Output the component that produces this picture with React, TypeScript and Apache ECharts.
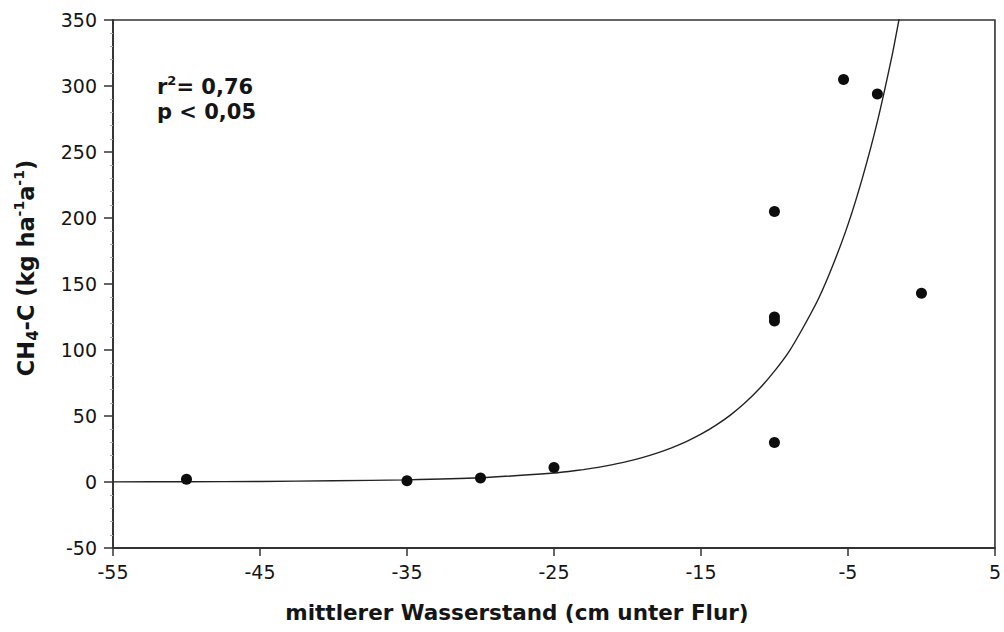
import React, { useEffect, useRef } from "react";
import * as echarts from "echarts";

// Measured points: mean water level (cm below surface) vs CH4-C emission
const waterLevel = [-50, -35, -30, -25, -10, -10, -10, -10, -5.3, -3, 0];
const ch4Emission = [2, 1, 3, 11, 30, 122, 125, 205, 305, 294, 143];

// Regression curve
const fitX = [-55, -50, -45, -40, -35, -30, -25, -24, -23, -22, -21, -20, -19, -18, -17, -16, -15, -14, -13, -12, -11, -10, -9, -8, -7, -6, -5, -4, -3, -2, -1.5];
const fitY = [0.1, 0.2, 0.4, 0.9, 1.6, 3.2, 6.8, 8, 9.4, 11.1, 13.2, 15.6, 18.5, 21.9, 25.9, 30.6, 36.2, 42.9, 50.7, 60, 71, 84, 99, 118, 139, 165, 195, 231, 273, 323, 352];

const xTicks = [-55, -45, -35, -25, -15, -5, 5];
const yMin = -50;
const yMax = 350;
const yStep = 50;

const statLines = ["{b|r}{s|2}{b|= 0,76}", "{b|p < 0,05}"];

const FONT = "DejaVu Sans";
const INK = "#151515";

export default function App() {
  const ref = useRef<HTMLDivElement>(null);

  useEffect(() => {
    if (!ref.current) return;
    const chart = echarts.init(ref.current, undefined, { renderer: "svg" });

    const boldRich = {
      b: { fontFamily: FONT, fontWeight: "bold", fontSize: 21, fill: INK, lineHeight: 26, verticalAlign: "middle" },
      s: { fontFamily: FONT, fontWeight: "bold", fontSize: 13, fill: INK, lineHeight: 14, verticalAlign: "top" },
    };
    const nameRich = {
      b: { fontFamily: FONT, fontWeight: "bold", fontSize: 22.5, fill: INK, lineHeight: 28, verticalAlign: "middle" },
      s: { fontFamily: FONT, fontWeight: "bold", fontSize: 14, fill: INK, lineHeight: 15, verticalAlign: "top" },
      sub: { fontFamily: FONT, fontWeight: "bold", fontSize: 15, fill: INK, lineHeight: 21, verticalAlign: "bottom" },
    };

    chart.setOption({
      animation: false,
      backgroundColor: "#ffffff",
      grid: {
        left: 113,
        right: 8,
        top: 20,
        bottom: 84,
        show: true,
        borderColor: "#333",
        borderWidth: 1.6,
        backgroundColor: "transparent",
      },
      xAxis: {
        type: "value",
        min: -55,
        max: 5,
        axisLine: { show: true, onZero: false, lineStyle: { color: "#333", width: 1.8 } },
        axisTick: { show: true, length: 8, lineStyle: { color: "#333", width: 1.5 }, customValues: xTicks },
        axisLabel: {
          customValues: xTicks,
          fontFamily: FONT,
          fontSize: 19,
          color: INK,
          margin: 14,
          formatter: (v: number) => String(v),
        },
        splitLine: { show: false },
      },
      yAxis: {
        type: "value",
        min: yMin,
        max: yMax,
        interval: yStep,
        axisLine: { show: true, onZero: false, lineStyle: { color: "#333", width: 1.8 } },
        axisTick: { show: true, length: 9, lineStyle: { color: "#333", width: 1.5 } },
        minorTick: { show: true, splitNumber: 5, length: 3, lineStyle: { color: "#aaa", width: 1 } },
        axisLabel: {
          fontFamily: FONT,
          fontSize: 19,
          color: INK,
          margin: 16,
        },
        splitLine: { show: false },
      },
      series: [
        {
          type: "line",
          data: fitX.map((x, i) => [x, fitY[i]]),
          smooth: 0.2,
          showSymbol: false,
          symbol: "none",
          clip: true,
          lineStyle: { color: "#222", width: 1.4 },
          z: 2,
        },
        {
          type: "scatter",
          data: waterLevel.map((x, i) => [x, ch4Emission[i]]),
          symbol: "circle",
          symbolSize: 11,
          itemStyle: { color: "#0d0d0d", opacity: 1 },
          z: 3,
        },
      ],
      graphic: [
        {
          type: "text",
          left: 157,
          top: 74,
          style: { text: statLines[0], rich: boldRich },
        },
        {
          type: "text",
          left: 157,
          top: 101,
          style: { text: statLines[1], rich: boldRich },
        },
        {
          type: "text",
          x: 517,
          y: 612,
          style: {
            text: "mittlerer Wasserstand (cm unter Flur)",
            fontFamily: FONT,
            fontWeight: "bold",
            fontSize: 21.5,
            fill: INK,
            align: "center",
            verticalAlign: "middle",
          },
        },
        {
          type: "text",
          x: 26,
          y: 268,
          rotation: Math.PI / 2,
          style: {
            text: "{b|CH}{sub|4}{b|-C (kg ha}{s|-1}{b|a}{s|-1}{b|)}",
            rich: nameRich,
            align: "center",
            verticalAlign: "middle",
          },
        },
      ],
    });

    return () => chart.dispose();
  }, []);

  return (
    <div
      ref={ref}
      style={{ position: "fixed", left: 0, top: 0, width: 1004, height: 632, background: "#fff" }}
    />
  );
}
